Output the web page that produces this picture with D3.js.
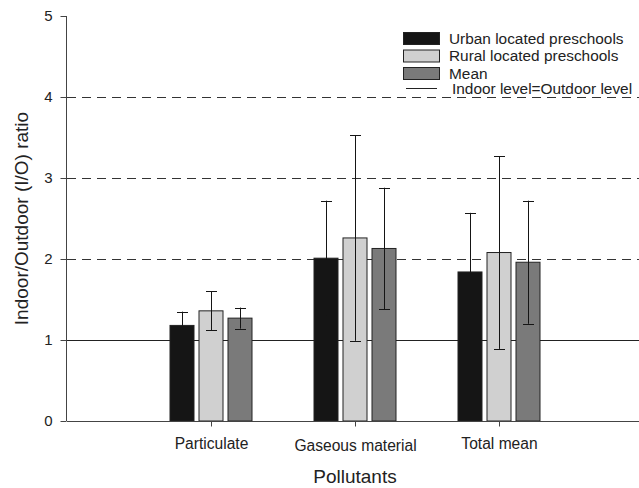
<!DOCTYPE html>
<html><head><meta charset="utf-8">
<script src="https://cdn.jsdelivr.net/npm/d3@7"></script>
<style>
body{margin:0;background:#fff;}
svg{display:block;font-family:"Liberation Sans",Arial,Helvetica,sans-serif;}
</style></head>
<body>
<svg id="chart" width="639" height="488"></svg>
<script>
const categories = ["Particulate", "Gaseous material", "Total mean"];
const seriesNames = ["Urban located preschools", "Rural located preschools", "Mean"];
const urbanValues = [1.18, 2.01, 1.84];
const urbanErrors = [0.17, 0.71, 0.73];
const ruralValues = [1.36, 2.26, 2.08];
const ruralErrors = [0.24, 1.27, 1.19];
const meanValues = [1.27, 2.13, 1.96];
const meanErrors = [0.13, 0.75, 0.76];
const yTicks = [0, 1, 2, 3, 4, 5];
const dashedLevels = [2, 3, 4];
const referenceLevel = 1;
const lineLegendLabel = "Indoor level=Outdoor level";
const xTitle = "Pollutants";
const yTitle = "Indoor/Outdoor (I/O) ratio";

const colors = ["#151515", "#d0d0d0", "#7a7a7a"];
const series = [
  {name: seriesNames[0], values: urbanValues, errors: urbanErrors, color: colors[0]},
  {name: seriesNames[1], values: ruralValues, errors: ruralErrors, color: colors[1]},
  {name: seriesNames[2], values: meanValues, errors: meanErrors, color: colors[2]}
];

const svg = d3.select("#chart");
const x = d3.scaleLinear().domain([0, 4]).range([67, 643]);
const y = d3.scaleLinear().domain([0, 5]).range([421, 16]);
const sub = d3.scaleBand().domain(d3.range(series.length)).range([-41, 41]).paddingInner(5/29).paddingOuter(0);

// dashed grid lines
svg.append("g").selectAll("line").data(dashedLevels).join("line")
  .attr("x1", x(0)).attr("x2", 639)
  .attr("y1", d => y(d) + 0.5).attr("y2", d => y(d) + 0.5)
  .attr("stroke", "#333").attr("stroke-width", 1).attr("stroke-dasharray", "9,6");

// reference line
svg.append("line")
  .attr("x1", x(0)).attr("x2", 639)
  .attr("y1", y(referenceLevel) + 0.5).attr("y2", y(referenceLevel) + 0.5)
  .attr("stroke", "#222").attr("stroke-width", 1.2);

// bars
const groups = svg.append("g").selectAll("g").data(series).join("g");
groups.selectAll("rect").data((s, si) => s.values.map((v, i) => ({v, i, si, color: s.color})))
  .join("rect")
  .attr("x", d => x(d.i + 1) + sub(d.si))
  .attr("width", sub.bandwidth())
  .attr("y", d => y(d.v))
  .attr("height", d => y(0) - y(d.v))
  .attr("fill", d => d.color)
  .attr("stroke", "#222").attr("stroke-width", 1);

// error bars
const capW = 11;
const eb = svg.append("g");
series.forEach((s, si) => {
  s.values.forEach((v, i) => {
    const cx = Math.round(x(i + 1) + sub(si) + sub.bandwidth() / 2) + 0.5;
    const hi = y(v + s.errors[i]), lo = y(v - s.errors[i]);
    eb.append("line").attr("x1", cx).attr("x2", cx).attr("y1", hi).attr("y2", lo)
      .attr("stroke", "#151515").attr("stroke-width", 1);
    [hi, lo].forEach(yy => {
      eb.append("line").attr("x1", cx - capW / 2).attr("x2", cx + capW / 2)
        .attr("y1", Math.round(yy) + 0.5).attr("y2", Math.round(yy) + 0.5)
        .attr("stroke", "#151515").attr("stroke-width", 1);
    });
  });
});

// y axis
const yAxis = svg.append("g").attr("transform", "translate(66.5,0)")
  .call(d3.axisLeft(y).tickValues(yTicks).tickSize(6).tickPadding(8).tickFormat(d3.format("d")));
yAxis.select(".domain").attr("stroke", "#444").attr("d", `M0,${y(5)}V${y(0)}`);
yAxis.selectAll(".tick line").attr("stroke", "#444");
yAxis.selectAll("text").attr("font-size", 15).attr("fill", "#222")
  .attr("font-family", "Liberation Sans, Arial, sans-serif");

// x axis
const xAxis = svg.append("g").attr("transform", `translate(0,${y(0) + 0.5})`)
  .call(d3.axisBottom(x).tickValues([1, 2, 3]).tickSize(5).tickPadding(10)
    .tickFormat(d => categories[d - 1]));
xAxis.select(".domain").attr("stroke", "#444").attr("d", `M${x(0)},0H639`);
xAxis.selectAll(".tick line").attr("stroke", "#444");
xAxis.selectAll("text").attr("font-size", 15.6).attr("fill", "#222")
  .attr("font-family", "Liberation Sans, Arial, sans-serif")
  .attr("dy", (d) => d === 2 ? "0.95em" : "0.8em");

// axis titles
svg.append("text").attr("x", 355).attr("y", 483).attr("text-anchor", "middle")
  .attr("font-size", 19).attr("fill", "#222").text(xTitle);
svg.append("text").attr("transform", "translate(28,218.5) rotate(-90)")
  .attr("text-anchor", "middle").attr("font-size", 19).attr("fill", "#222").text(yTitle);

// legend
const lg = svg.append("g");
const legRows = [38.5, 56, 73.5];
series.forEach((s, si) => {
  lg.append("rect").attr("x", 403.5).attr("y", legRows[si] - 6).attr("width", 36).attr("height", 12)
    .attr("fill", s.color).attr("stroke", "#222").attr("stroke-width", 1);
  lg.append("text").attr("x", 449).attr("y", legRows[si] + 5.3)
    .attr("font-size", 15.4).attr("fill", "#222").text(s.name);
});
lg.append("line").attr("x1", 406).attr("x2", 437).attr("y1", 88.5).attr("y2", 88.5)
  .attr("stroke", "#222").attr("stroke-width", 1);
lg.append("text").attr("x", 452).attr("y", 93.5).attr("font-size", 15.4).attr("fill", "#222").text(lineLegendLabel);
</script>
</body></html>
